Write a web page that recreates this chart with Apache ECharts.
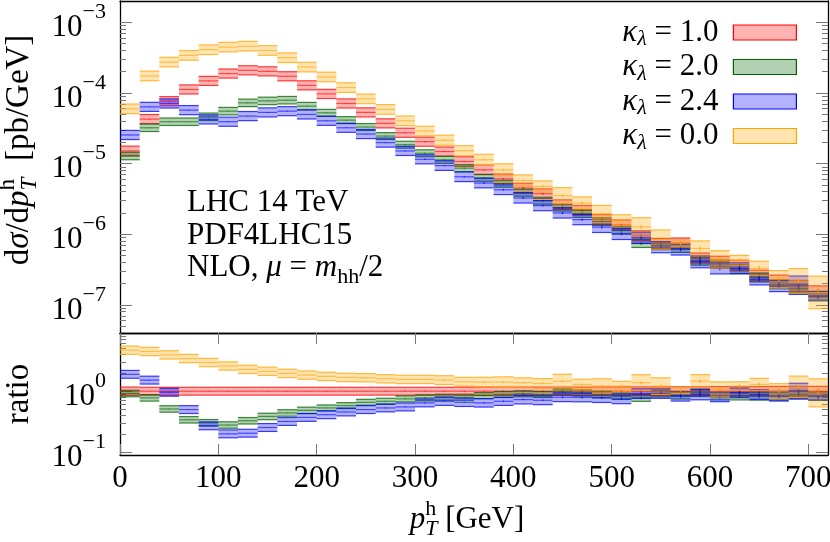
<!DOCTYPE html>
<html><head><meta charset="utf-8">
<script src="https://cdn.jsdelivr.net/npm/echarts@6/dist/echarts.min.js"></script>
<style>html,body{margin:0;padding:0;background:#fff}#c{width:830px;height:542px}</style>
</head><body><div id="c"></div>
<script>
// ---------------- data ----------------
const ptBins = [0,20,40,60,80,100,120,140,160,180,200,220,240,260,280,300,320,340,360,380,400,420,440,460,480,500,520,540,560,580,600,620,640,660,680,700,720];
const seriesNames = ['k1.0','k2.0','k2.4','k0.0'];
const kappaLabels = ['1.0','2.0','2.4','0.0'];

const xsecK1 = [1.51e-5,4.26e-5,7.64e-5,1.12e-4,1.48e-4,1.88e-4,2.09e-4,2.02e-4,1.72e-4,1.28e-4,9.68e-5,7.09e-5,5.30e-5,3.71e-5,2.73e-5,2.04e-5,1.48e-5,1.07e-5,8.15e-6,6.09e-6,4.51e-6,3.74e-6,2.62e-6,2.18e-6,1.61e-6,1.35e-6,9.5e-7,7.4e-7,7.5e-7,4.6e-7,4.1e-7,3.6e-7,2.6e-7,2.2e-7,1.85e-7,1.55e-7];
const xsecK2 = [1.28e-5,3.21e-5,3.91e-5,3.91e-5,4.59e-5,5.52e-5,7.23e-5,7.71e-5,7.89e-5,6.50e-5,5.23e-5,4.12e-5,3.29e-5,2.45e-5,1.85e-5,1.40e-5,1.13e-5,8.61e-6,6.29e-6,5.18e-6,3.87e-6,2.98e-6,2.38e-6,1.96e-6,1.51e-6,1.14e-6,7.4e-7,6.9e-7,6.3e-7,4.2e-7,3.8e-7,3.2e-7,2.45e-7,1.96e-7,1.7e-7,1.33e-7];
const xsecK24 = [2.54e-5,6.35e-5,7.09e-5,5.71e-5,4.22e-5,3.91e-5,4.70e-5,5.30e-5,5.52e-5,4.96e-5,4.03e-5,3.21e-5,2.62e-5,1.98e-5,1.51e-5,1.15e-5,9.37e-6,6.50e-6,5.30e-6,4.26e-6,3.26e-6,2.54e-6,2.00e-6,1.61e-6,1.26e-6,1.01e-6,8.9e-7,6.56e-7,6.09e-7,4.09e-7,3.29e-7,3.29e-7,2.30e-7,1.85e-7,1.9e-7,1.34e-7];
const xsecK0 = [5.95e-5,1.74e-4,2.73e-4,3.40e-4,4.09e-4,4.45e-4,4.59e-4,3.99e-4,3.15e-4,2.32e-4,1.68e-4,1.19e-4,8.23e-5,5.84e-5,4.03e-5,2.89e-5,2.14e-5,1.52e-5,1.13e-5,8.15e-6,5.77e-6,4.74e-6,3.51e-6,2.77e-6,1.94e-6,1.57e-6,1.27e-6,8.4e-7,7.4e-7,6.29e-7,4.40e-7,4.26e-7,3.29e-7,2.30e-7,2.18e-7,1.50e-7];

// relative half-width of the scale-uncertainty bands
const errK1 = [0.17,0.16,0.16,0.16,0.16,0.16,0.16,0.16,0.16,0.16,0.16,0.16,0.16,0.16,0.16,0.16,0.16,0.17,0.17,0.17,0.17,0.17,0.17,0.17,0.18,0.18,0.18,0.18,0.18,0.18,0.19,0.19,0.19,0.2,0.2,0.2];
const errK2 = [0.13,0.13,0.13,0.13,0.13,0.13,0.13,0.13,0.13,0.13,0.12,0.12,0.12,0.12,0.12,0.12,0.12,0.12,0.12,0.12,0.12,0.12,0.12,0.13,0.13,0.13,0.14,0.14,0.14,0.15,0.15,0.15,0.16,0.16,0.16,0.17];
const errK24 = [0.16,0.16,0.16,0.16,0.16,0.16,0.16,0.16,0.16,0.16,0.16,0.16,0.16,0.16,0.16,0.16,0.17,0.17,0.17,0.17,0.18,0.18,0.18,0.18,0.19,0.2,0.2,0.2,0.2,0.22,0.2,0.2,0.2,0.2,0.35,0.15];
const errK0 = [0.17,0.17,0.17,0.17,0.17,0.17,0.17,0.17,0.17,0.17,0.17,0.17,0.17,0.17,0.17,0.17,0.18,0.18,0.2,0.22,0.2,0.2,0.3,0.22,0.32,0.2,0.35,0.37,0.12,0.28,0.33,0.18,0.26,0.33,0.5,0.7];

// relative statistical (MC) errors, drawn as vertical bars at bin centres
const statK1 = [0.01,0.01,0.01,0.01,0.01,0.01,0.01,0.01,0.01,0.01,0.01,0.01,0.01,0.01,0.015,0.015,0.02,0.02,0.02,0.025,0.03,0.03,0.035,0.04,0.04,0.045,0.05,0.05,0.055,0.06,0.06,0.065,0.07,0.07,0.08,0.08];
const statK2 = [0.01,0.01,0.01,0.01,0.01,0.01,0.01,0.01,0.01,0.01,0.01,0.01,0.01,0.015,0.015,0.02,0.02,0.02,0.025,0.025,0.03,0.03,0.035,0.04,0.04,0.045,0.05,0.05,0.06,0.15,0.06,0.07,0.07,0.08,0.08,0.09];
const statK24 = [0.01,0.01,0.01,0.01,0.01,0.01,0.01,0.01,0.01,0.01,0.01,0.01,0.01,0.015,0.015,0.02,0.02,0.02,0.025,0.025,0.03,0.03,0.035,0.04,0.045,0.045,0.05,0.06,0.06,0.07,0.06,0.07,0.07,0.08,0.1,0.09];
const statK0 = [0.01,0.01,0.01,0.01,0.01,0.01,0.01,0.01,0.01,0.01,0.01,0.01,0.01,0.015,0.015,0.02,0.02,0.02,0.025,0.03,0.03,0.035,0.04,0.04,0.05,0.05,0.06,0.06,0.06,0.07,0.07,0.07,0.08,0.09,0.1,0.1];

const ratioK1 = [1,1,1,1,1,1,1,1,1,1,1,1,1,1,1,1,1,1,1,1,1,1,1,1,1,1,1,1,1,1,1,1,1,1,1,1];
const ratioK2 = [0.916,0.778,0.512,0.340,0.304,0.279,0.328,0.386,0.440,0.485,0.532,0.580,0.658,0.684,0.749,0.778,0.796,0.796,0.849,0.882,0.906,0.882,0.977,0.94,0.882,0.827,0.778,0.916,0.849,0.94,0.827,0.827,0.827,0.827,0.882,0.827];
const ratioK24 = [1.89,1.52,0.96,0.50,0.271,0.200,0.205,0.254,0.319,0.372,0.412,0.457,0.50,0.532,0.552,0.643,0.684,0.658,0.643,0.684,0.729,0.710,0.796,0.79,0.778,0.749,0.916,0.916,0.827,0.882,0.808,0.94,0.882,0.827,1.0,0.827];
const ratioK0 = [4.71,4.48,3.94,3.43,2.95,2.59,2.28,2.12,1.96,1.84,1.75,1.68,1.66,1.60,1.56,1.56,1.52,1.43,1.41,1.41,1.38,1.34,1.46,1.29,1.21,1.21,1.38,1.21,1.03,1.46,1.07,1.21,1.29,1.00,1.18,0.94];

const mainMajorTicks = [1e-7,1e-6,1e-5,1e-4,1e-3];
const ratioMajorTicks = [0.1,1];
const xTicks = [0,100,200,300,400,500,600,700];

// ---------------- styling ----------------
const lineColors = ['#ff0000','#006400','#0000ff','#ffa500'];
function rgba(hex,a){const n=parseInt(hex.slice(1),16);return `rgba(${n>>16},${(n>>8)&255},${n&255},${a})`;}
const FONT = '"Liberation Serif","Times New Roman",serif';
const FS = 31, FSS = 22;

function minorTicks(lo, hi){
  const out=[];
  for(let e=-9;e<=2;e++){for(let m=2;m<=9;m++){const v=m*Math.pow(10,e); if(v>lo*1.0001 && v<hi*0.9999) out.push(v);}}
  return out;
}
const MAIN_MIN=4e-8, MAIN_MAX=2e-3, R_MIN=0.09, R_MAX=9;

function supLabel(v){
  const e=Math.round(Math.log10(v));
  return '{b|10}{s|'+(e<0?'\u2212'+(-e):e)+'}';
}
const labelRich = {
  b:{fontFamily:FONT,fontSize:FS,lineHeight:42,verticalAlign:'bottom',color:'#000'},
  s:{fontFamily:FONT,fontSize:FSS,lineHeight:22,verticalAlign:'top',color:'#000'}
};

function yAx(grid, min, max, pos, major, showLabel, minor){
  const ticks = minor ? minorTicks(min,max) : major;
  return {
    type:'log', logBase:10, gridIndex:grid, min, max, position:pos,
    axisLine:{show:!minor, onZero:false, lineStyle:{color:'#000',width:1.3}},
    axisTick:{show:true, inside:true, length: minor?6:12, customValues:ticks, lineStyle:{color:'#777',width:1}},
    axisLabel:{show:showLabel && !minor, customValues:major, margin:14, formatter:supLabel, rich:labelRich},
    splitLine:{show:false}, minorTick:{show:false}
  };
}
function xAx(grid, pos, showLabel, showTicks){
  return {
    type:'value', gridIndex:grid, min:0, max:720, interval:100, position:pos,
    axisLine:{show:true,onZero:false,lineStyle:{color:'#000',width:1.3}},
    axisTick:{show:showTicks, inside:true, length:11, customValues:xTicks, lineStyle:{color:'#777',width:1}},
    axisLabel:{show:showLabel, customValues:xTicks, margin:8, fontFamily:FONT, fontSize:FS, color:'#000'},
    splitLine:{show:false}
  };
}

function makeData(vals, errs, stats){
  return vals.map((v,i)=>[ptBins[i], ptBins[i+1], v, v/(1+errs[i]), v*(1+errs[i]), v/(1+stats[i]), v*(1+stats[i])]);
}
function bandSeries(idx, vals, errs, stats, xi, yi){
  const c = lineColors[idx];
  return {
    type:'custom', name:seriesNames[idx], xAxisIndex:xi, yAxisIndex:yi, clip:true,
    data: makeData(vals, errs, stats),
    encode:{x:[0,1], y:[2,3,4]},
    renderItem(params, api){
      const x0=api.value(0), x1=api.value(1), v=api.value(2), lo=api.value(3), hi=api.value(4), slo=api.value(5), shi=api.value(6);
      const a=api.coord([x0,hi]), b=api.coord([x1,lo]), m0=api.coord([x0,v]), m1=api.coord([x1,v]);
      const xc=(x0+x1)/2, s0=api.coord([xc,slo]), s1=api.coord([xc,shi]);
      return {type:'group', children:[
        {type:'rect', shape:{x:a[0], y:a[1], width:b[0]-a[0], height:b[1]-a[1]}, style:{fill:rgba(c,0.3)}},
        {type:'line', shape:{x1:a[0],y1:a[1],x2:b[0],y2:a[1]}, style:{stroke:rgba(c,0.75),lineWidth:1.2}},
        {type:'line', shape:{x1:a[0],y1:b[1],x2:b[0],y2:b[1]}, style:{stroke:rgba(c,0.75),lineWidth:1.2}},
        {type:'line', shape:{x1:m0[0],y1:m0[1],x2:m1[0],y2:m1[1]}, style:{stroke:rgba(c,0.6),lineWidth:1.2}},
        {type:'line', shape:{x1:s0[0],y1:s0[1],x2:s1[0],y2:s1[1]}, style:{stroke:rgba(c,0.85),lineWidth:1.2}}
      ]};
    }
  };
}

// ----- math-like text built from pieces -----
const mctx = document.createElement('canvas').getContext('2d');
function measure(t,size,italic){mctx.font=(italic?'italic ':'')+size+'px '+FONT;return mctx.measureText(t).width;}
function mathText(parts, x, y, rotation, fs){
  const F = fs||FS, FSub = Math.round(F*0.71);
  let cx=0; const items=[];
  parts.forEach(p=>{
    const [t,kind,stack]=p;
    const sup=kind.startsWith('sup'), sub=kind.startsWith('sub'), it=kind.endsWith('i');
    const size=(sup||sub)?FSub:F;
    let base=0; if(sup) base=-0.42*F; if(sub) base=0.22*F;
    items.push({t,size,it,x:cx,base});
    if(!stack) cx+=measure(t,size,it);
  });
  const w=cx;
  const g = {type:'group', x, y, rotation:rotation||0, children:items.map(o=>({
    type:'text', x:o.x-w/2, y:o.base-0.3375*o.size,
    style:{text:o.t, font:(o.it?'italic ':'')+o.size+'px '+FONT, fill:'#000', align:'left', verticalAlign:'middle', textAlign:'left', textVerticalAlign:'middle'}
  }))};
  g._w = w;
  return g;
}
function mathTextLeft(parts, x, y){
  const g=mathText(parts,0,y,0);
  g.x = x + g._w/2; delete g._w; return g;
}
function clean(g){ delete g._w; return g; }

const chart = echarts.init(document.getElementById('c'), null, {renderer:'canvas'});
const series = [
  bandSeries(0,xsecK1,errK1,statK1,0,0), bandSeries(1,xsecK2,errK2,statK2,0,0), bandSeries(2,xsecK24,errK24,statK24,0,0), bandSeries(3,xsecK0,errK0,statK0,0,0),
  bandSeries(0,ratioK1,errK1,statK1,2,4), bandSeries(1,ratioK2,errK2,statK2,2,4), bandSeries(2,ratioK24,errK24,statK24,2,4), bandSeries(3,ratioK0,errK0,statK0,2,4)
];

chart.setOption({
  animation:false,
  backgroundColor:'#fff',
  grid:[
    {left:120, right:2, top:1, height:332, containLabel:false, outerBoundsMode:'none'},
    {left:120, right:2, top:333, height:122, containLabel:false, outerBoundsMode:'none'}
  ],
  xAxis:[ xAx(0,'bottom',false,false), xAx(0,'top',false,false), xAx(1,'bottom',true,true), xAx(1,'top',false,true) ],
  yAxis:[
    yAx(0,MAIN_MIN,MAIN_MAX,'left',mainMajorTicks,true,false),
    yAx(0,MAIN_MIN,MAIN_MAX,'left',mainMajorTicks,false,true),
    yAx(0,MAIN_MIN,MAIN_MAX,'right',mainMajorTicks,false,false),
    yAx(0,MAIN_MIN,MAIN_MAX,'right',mainMajorTicks,false,true),
    yAx(1,R_MIN,R_MAX,'left',ratioMajorTicks,true,false),
    yAx(1,R_MIN,R_MAX,'left',ratioMajorTicks,false,true),
    yAx(1,R_MIN,R_MAX,'right',ratioMajorTicks,false,false),
    yAx(1,R_MIN,R_MAX,'right',ratioMajorTicks,false,true)
  ],
  legend:{
    orient:'vertical', right:28, top:12, align:'right', icon:'rect', itemWidth:63, itemHeight:15, itemGap:1, selectedMode:false,
    data: seriesNames.map((n,i)=>({name:n, itemStyle:{color:rgba(lineColors[i],0.3), borderColor:lineColors[i], borderWidth:1.2}})),
    formatter: n => '{k|\u03ba}{l|\u03bb}{r| = '+kappaLabels[seriesNames.indexOf(n)]+'}',
    textStyle:{color:'#000', rich:{
      k:{fontFamily:FONT,fontStyle:'italic',fontSize:FS,lineHeight:36,verticalAlign:'middle'},
      l:{fontFamily:FONT,fontStyle:'italic',fontSize:FSS,lineHeight:18,verticalAlign:'bottom'},
      r:{fontFamily:FONT,fontSize:FS,lineHeight:36,verticalAlign:'middle',padding:[0,10,0,0]}
    }}
  },
  graphic:[
    mathTextLeft([['LHC 14 TeV','r']],187,213),
    mathTextLeft([['PDF4LHC15','r']],187,246),
    mathTextLeft([['NLO, ','r'],['\u03bc','i'],[' = ','r'],['m','i'],['hh','subr'],['/2','r']],187,278),
    clean(mathText([['d','r'],['\u03c3','i'],['/d','r'],['p','i'],['h','supr',true],['T','subi'],['  [pb/GeV]','r']],30,150,Math.PI/2,33)),
    clean(mathText([['ratio','r']],30,394,Math.PI/2,33)),
    clean(mathText([['p','i'],['h','supr',true],['T','subi'],[' [GeV]','r']],467,530,0))
  ],
  series
});
</script></body></html>
